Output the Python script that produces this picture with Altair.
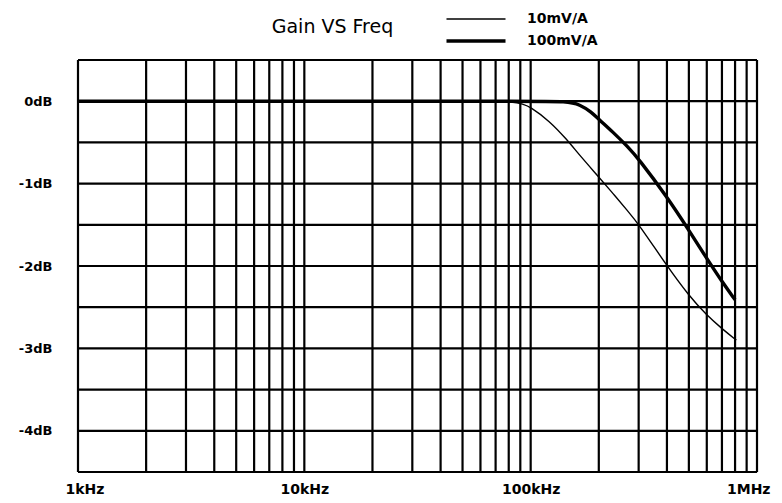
import altair as alt
import pandas as pd

# Curve data (frequency in Hz, gain in dB)
thin_freq = [1000, 10000, 50000, 88000, 100000, 121000, 144000, 165000, 200000, 231000, 268000,
             300000, 400000, 500000, 600000, 700000, 810000]
thin_db   = [0, 0, 0, 0, -0.07, -0.24, -0.46, -0.66, -0.92, -1.12, -1.33,
             -1.49, -2.0, -2.36, -2.60, -2.76, -2.90]

thick_freq = [1000, 10000, 100000, 145000, 165000, 185000, 200000, 231000, 268000, 300000,
              400000, 500000, 600000, 700000, 800000]
thick_db   = [0, 0, 0, 0, -0.04, -0.13, -0.22, -0.375, -0.55, -0.70,
              -1.16, -1.565, -1.91, -2.19, -2.41]

series_names = ["10mV/A", "100mV/A"]

# Grid / tick positions
grid_freq = [k * 10 ** e for e in (3, 4, 5) for k in range(1, 10)] + [1000000]
grid_db = [0.5, 0, -0.5, -1, -1.5, -2, -2.5, -3, -3.5, -4, -4.5]
x_tick_vals = [1000, 10000, 100000, 1000000]
x_tick_text = ["1kHz", "10kHz", "100kHz", "1MHz"]
y_tick_vals = [0, -1, -2, -3, -4]

curves = pd.concat([
    pd.DataFrame({"freq": thin_freq, "db": thin_db, "series": series_names[0], "order": range(len(thin_freq))}),
    pd.DataFrame({"freq": thick_freq, "db": thick_db, "series": series_names[1], "order": range(len(thick_freq))}),
])

xscale = alt.Scale(type="log", domain=[1000, 1000000], nice=False)
yscale = alt.Scale(domain=[-4.5, 0.5], nice=False, zero=False)

label_expr = "{" + ",".join(f"'{v}':'{t}'" for v, t in zip(x_tick_vals, x_tick_text)) + "}[datum.value]"

vgrid = alt.Chart(pd.DataFrame({"freq": grid_freq})).mark_rule(color="black", strokeWidth=2.2).encode(
    x=alt.X("freq:Q", scale=xscale)
)
hgrid = alt.Chart(pd.DataFrame({"db": grid_db})).mark_rule(color="black", strokeWidth=2.2).encode(
    y=alt.Y("db:Q", scale=yscale)
)

lines = alt.Chart(curves).mark_line(color="black", interpolate="basis").encode(
    x=alt.X("freq:Q", scale=xscale, title=None,
            axis=alt.Axis(values=x_tick_vals, labelExpr=label_expr, grid=False, ticks=False, domain=False,
                          labelFont="DejaVu Sans", labelFontWeight="bold", labelFontSize=14,
                          labelColor="black", labelPadding=10, labelFlush=True, labelFlushOffset=13)),
    y=alt.Y("db:Q", scale=yscale, title=None,
            axis=alt.Axis(values=y_tick_vals, labelExpr="datum.value + 'dB'", grid=False, ticks=False, domain=False,
                          labelFont="DejaVu Sans", labelFontWeight="bold", labelFontSize=13,
                          labelColor="black", labelPadding=26)),
    strokeWidth=alt.StrokeWidth("series:O", scale=alt.Scale(domain=series_names, range=[1.4, 3.4]),
                                legend=alt.Legend(title=None, orient="none", legendX=386, legendY=-52,
                                                  symbolType="M-3,0H3", symbolSize=387, symbolStrokeColor="black",
                                                  symbolFillColor="transparent",
                                                  labelFont="DejaVu Sans", labelFontWeight="bold", labelFontSize=14,
                                                  labelColor="black", labelOffset=39, rowPadding=3)),
    order="order:Q",
    detail="series:N",
)

chart = alt.layer(vgrid, hgrid, lines).properties(
    width=679, height=412,
    title=alt.TitleParams("Gain VS Freq", font="DejaVu Sans", fontSize=19, fontWeight="normal",
                          color="black", anchor="middle", dx=-85, offset=0, dy=44,
                          baseline="alphabetic"),
    autosize=alt.AutoSizeParams(type="none"),
    padding={"left": 70, "top": 52, "right": 17, "bottom": 23},
).configure_view(stroke="black", strokeWidth=2.5).configure(background="white")

chart.save("out.html", embed_options={"renderer": "svg", "actions": False})
